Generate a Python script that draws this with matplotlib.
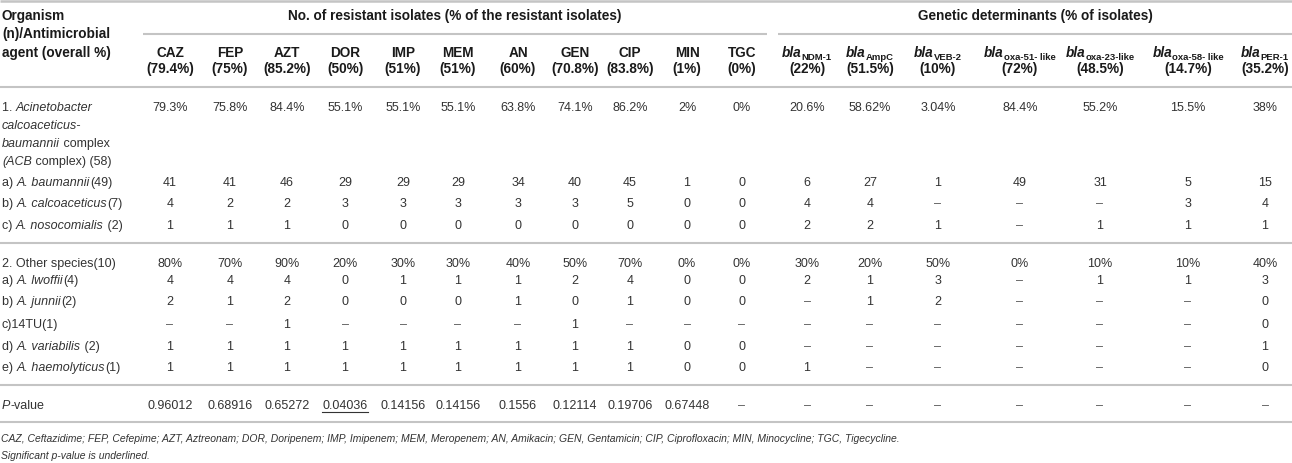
import matplotlib.pyplot as plt

#%%data
res_drugs   = ["CAZ", "FEP", "AZT", "DOR", "IMP", "MEM", "AN", "GEN", "CIP", "MIN", "TGC"]
res_overall = ["79.4%", "75%", "85.2%", "50%", "51%", "51%", "60%", "70.8%", "83.8%", "1%", "0%"]
gene_subs    = ["NDM-1", "AmpC", "VEB-2", "oxa-51- like", "oxa-23-like", "oxa-58- like", "PER-1"]
gene_overall = ["22%", "51.5%", "10%", "72%", "48.5%", "14.7%", "35.2%"]

D = "\u2013"    #dash for "not tested"
acb_pct     = ["79.3%", "75.8%", "84.4%", "55.1%", "55.1%", "55.1%", "63.8%", "74.1%", "86.2%", "2%", "0%",
               "20.6%", "58.62%", "3.04%", "84.4%", "55.2%", "15.5%", "38%"]
baumannii   = [41, 41, 46, 29, 29, 29, 34, 40, 45, 1, 0, 6, 27, 1, 49, 31, 5, 15]
calcoacet   = [4, 2, 2, 3, 3, 3, 3, 3, 5, 0, 0, 4, 4, D, D, D, 3, 4]
nosocomial  = [1, 1, 1, 0, 0, 0, 0, 0, 0, 0, 0, 2, 2, 1, D, 1, 1, 1]
other_pct   = ["80%", "70%", "90%", "20%", "30%", "30%", "40%", "50%", "70%", "0%", "0%",
               "30%", "20%", "50%", "0%", "10%", "10%", "40%"]
lwoffii     = [4, 4, 4, 0, 1, 1, 1, 2, 4, 0, 0, 2, 1, 3, D, 1, 1, 3]
junnii      = [2, 1, 2, 0, 0, 0, 1, 0, 1, 0, 0, D, 1, 2, D, D, D, 0]
tu14        = [D, D, 1, D, D, D, D, 1, D, D, D, D, D, D, D, D, D, 0]
variabilis  = [1, 1, 1, 1, 1, 1, 1, 1, 1, 0, 0, D, D, D, D, D, D, 1]
haemolytic  = [1, 1, 1, 1, 1, 1, 1, 1, 1, 0, 0, 1, D, D, D, D, D, 0]
p_values    = ["0.96012", "0.68916", "0.65272", "0.04036", "0.14156", "0.14156", "0.1556", "0.12114",
               "0.19706", "0.67448", D, D, D, D, D, D, D, D]
significant = "0.04036"

#row labels: (text, italic)
acb_label = [
    [("1. ", 0), ("Acinetobacter", 1)],
    [("calcoaceticus-", 1)],
    [("baumannii", 1), (" complex", 0)],
    [("(ACB", 1), (" complex) (58)", 0)],
]
row_labels = [
    [("a) ", 0), ("A. baumannii", 1), ("(49)", 0)],
    [("b) ", 0), ("A. calcoaceticus", 1), ("(7)", 0)],
    [("c) ", 0), ("A. nosocomialis", 1), (" (2)", 0)],
    [("2. Other species(10)", 0)],
    [("a) ", 0), ("A. lwoffii", 1), ("(4)", 0)],
    [("b) ", 0), ("A. junnii", 1), ("(2)", 0)],
    [("c)14TU(1)", 0)],
    [("d) ", 0), ("A. variabilis", 1), (" (2)", 0)],
    [("e) ", 0), ("A. haemolyticus", 1), ("(1)", 0)],
    [("P", 1), ("-value", 0)],
]
footnotes = [
    "CAZ, Ceftazidime; FEP, Cefepime; AZT, Aztreonam; DOR, Doripenem; IMP, Imipenem; MEM, Meropenem; "
    "AN, Amikacin; GEN, Gentamicin; CIP, Ciprofloxacin; MIN, Minocycline; TGC, Tigecycline.",
    "Significant p-value is underlined.",
]

#%%layout (pixels)
W, H = 1292, 463
col_x = [170, 230, 287, 345, 403, 458, 518, 575, 630, 687, 742,
         807, 870, 938, 1020, 1100, 1188, 1265]
row_y = [182, 203, 225, 263, 280, 301, 324, 346, 367, 405]
acb_y = [107, 125, 143, 161]
FONT = "Liberation Sans"
BODY = dict(family=FONT, fontsize=9.0, color="#333333")
HEAD = dict(family=FONT, fontsize=9.8, color="#1a1a1a", fontweight="bold")
LINE = dict(color="#c4c4c4", lw=1.5, solid_capstyle="butt")

fig = plt.figure(figsize=(W/100, H/100), dpi=100)
ax = fig.add_axes([0, 0, 1, 1])
ax.set_xlim(0, W)
ax.set_ylim(H, 0)
ax.axis("off")
renderer = fig.canvas.get_renderer()


def adv(s, **kw):
    """advance width of a string in pixels (keeps trailing spaces)"""
    t = ax.text(0, 0, s + "|", **kw)
    w = t.get_window_extent(renderer).width
    t.set_text("|")
    w -= t.get_window_extent(renderer).width
    t.remove()
    return w


def rich(x, y, parts, ha="left"):
    """parts: list of (text, style dict, dy)"""
    widths = [adv(s, **st) for (s, st, dy) in parts]
    x0 = x - (sum(widths)/2 if ha == "center" else 0)
    for (s, st, dy), w in zip(parts, widths):
        ax.text(x0, y + dy, s, ha="left", va="baseline", **st)
        x0 += w


def label(y, segs):
    parts = [(s, dict(BODY, style="italic" if it else "normal"), 0) for (s, it) in segs]
    rich(2, y + 4, parts)


#%%rules
ax.plot([0, W], [1, 1], **dict(LINE, lw=1.8))
ax.plot([143, 767], [34, 34], **LINE)
ax.plot([778, W], [34, 34], **LINE)
for yl in [87, 243, 385, 422]:
    ax.plot([0, W], [yl, yl], **LINE)

#%%header
for (s, y) in zip(["Organism", "(n)/Antimicrobial", "agent (overall %)"], [15, 33, 52]):
    ax.text(2, y + 5, s, ha="left", va="baseline", **HEAD)
ax.text((143 + 767)/2, 20, "No. of resistant isolates (% of the resistant isolates)", ha="center", va="baseline", **HEAD)
ax.text((778 + W)/2, 20, "Genetic determinants (% of isolates)", ha="center", va="baseline", **HEAD)

for (x, name, pct) in zip(col_x, res_drugs, res_overall):
    ax.text(x, 57, name, ha="center", va="baseline", **HEAD)
    ax.text(x, 73, f"({pct})", ha="center", va="baseline", **HEAD)
for (x, sub, pct) in zip(col_x[len(res_drugs):], gene_subs, gene_overall):
    rich(x, 57, [("bla", dict(HEAD, style="italic"), 0),
                 (sub, dict(HEAD, fontsize=6.8), 3)], ha="center")
    ax.text(x, 73, f"({pct})", ha="center", va="baseline", **HEAD)

#%%body
for y, segs in zip(acb_y, acb_label):
    label(y, segs)
for y, segs in zip(row_y, row_labels):
    label(y, segs)

rows = [(acb_y[0], acb_pct)] + list(zip(row_y, [baumannii, calcoacet, nosocomial, other_pct, lwoffii,
                                                junnii, tu14, variabilis, haemolytic, p_values]))
for y, vals in rows:
    for x, v in zip(col_x, vals):
        v = str(v)
        c = "#555555" if v == D else BODY["color"]
        ax.text(x, y + 4, v, ha="center", va="baseline", **dict(BODY, color=c))
        if v == significant:
            w = adv(v, **BODY)
            ax.plot([x - w/2, x + w/2], [y + 7, y + 7], color="#333333", lw=0.8)

#%%footnotes
for (s, y) in zip(footnotes, [438, 455]):
    ax.text(1, y + 4, s, ha="left", va="baseline", **dict(BODY, fontsize=7.5, style="italic"))

fig.savefig("out.png", dpi=100)
